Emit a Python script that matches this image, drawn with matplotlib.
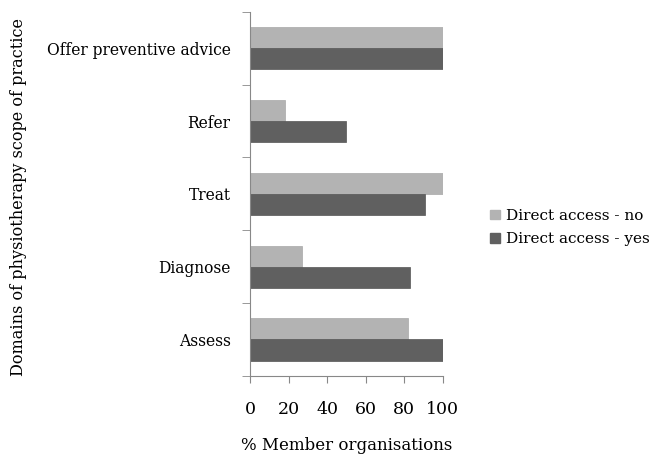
import numpy as np
import matplotlib
matplotlib.use('Agg')
import matplotlib.pyplot as plt
from matplotlib.patches import Patch

# categories bottom to top
categories = ['Assess', 'Diagnose', 'Treat', 'Refer', 'Offer preventive advice']
access_no = [82, 27, 100, 18, 100]
access_yes = [100, 83, 91, 50, 100]
x_ticks = [0, 20, 40, 60, 80, 100]

plt.rcParams['font.family'] = ['DejaVu Serif']

fig = plt.figure(figsize=(6.53, 4.55), dpi=100)
ax = fig.add_axes([0.383, 0.174, 0.295, 0.80])

y = np.arange(len(categories))
h = 0.29
ax.barh(y + h / 2, access_no, height=h, color='#b3b3b3', edgecolor='#a8a8a8', linewidth=0.5)
ax.barh(y - h / 2, access_yes, height=h, color='#606060', edgecolor='#555555', linewidth=0.5)

ax.set_xlim(0, 100)
ax.set_ylim(-0.5, len(categories) - 0.5)
ax.set_xticks(x_ticks)
ax.set_xticklabels([str(v) for v in x_ticks], fontsize=12.5)
ax.set_yticks(y)
ax.set_yticklabels(categories, fontsize=11.2)
ax.set_yticks(np.arange(len(categories) + 1) - 0.5, minor=True)

ax.tick_params(axis='y', which='major', length=0, pad=14)
ax.tick_params(axis='y', which='minor', length=6, color='#888888', direction='out')
ax.tick_params(axis='x', length=5, color='#888888', pad=13)

for s in ['top', 'right']:
    ax.spines[s].set_visible(False)
for s in ['left', 'bottom']:
    ax.spines[s].set_color('#888888')

ax.set_xlabel('% Member organisations', fontsize=12, labelpad=14)
ax.set_ylabel('Domains of physiotherapy scope of practice', fontsize=11.6)
ax.yaxis.set_label_coords(-1.16, 0.49)

handles = [Patch(color='#b3b3b3', label='Direct access - no'),
           Patch(color='#606060', label='Direct access - yes')]
fig.legend(handles=handles, loc='center left', bbox_to_anchor=(0.73, 0.5),
           frameon=False, fontsize=11, handlelength=0.6, handleheight=0.6,
           handletextpad=0.4, labelspacing=0.6)

fig.savefig('out.png', dpi=100)
